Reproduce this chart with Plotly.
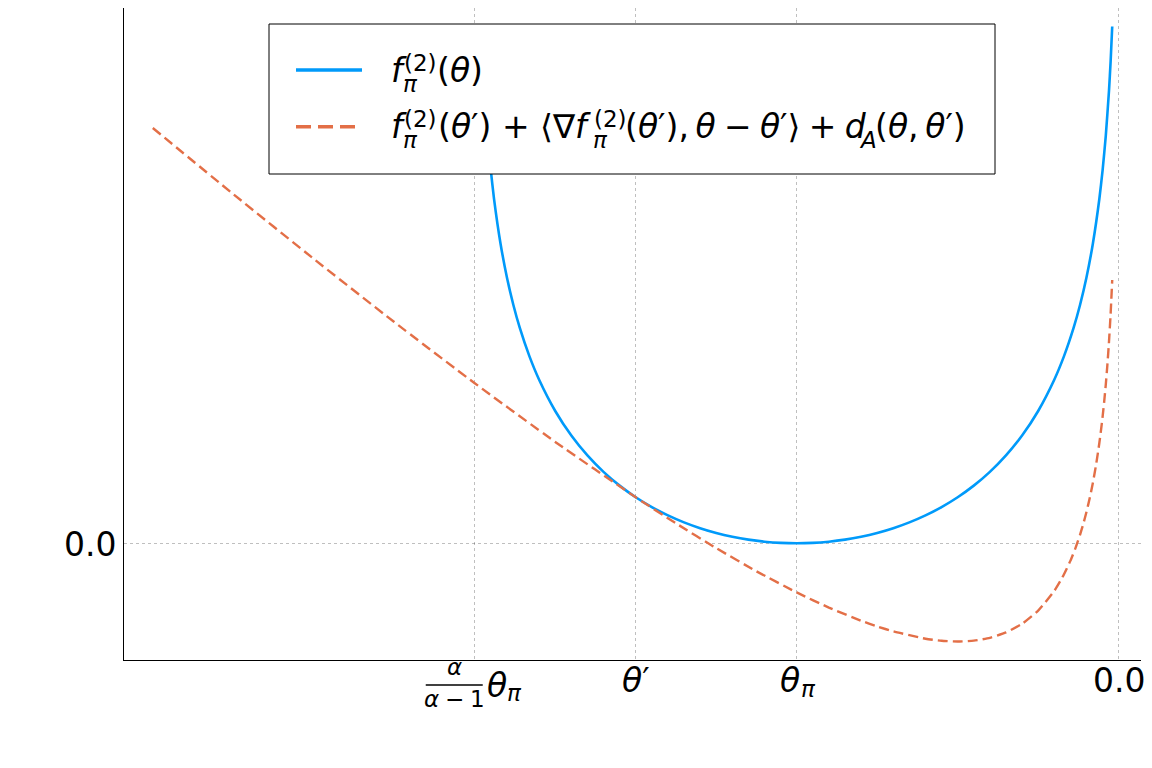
import plotly.graph_objects as go

# ---------------- data ----------------
theta_f = [-1.98, -1.975, -1.97, -1.96, -1.95, -1.94, -1.92, -1.90, -1.88, -1.86,
           -1.83, -1.80, -1.75, -1.70, -1.65, -1.60, -1.55, -1.50, -1.45, -1.40,
           -1.35, -1.30, -1.25, -1.20, -1.15, -1.10, -1.05, -1.00, -0.95, -0.90,
           -0.85, -0.80, -0.75, -0.70, -0.65, -0.60, -0.55, -0.50, -0.45, -0.40,
           -0.35, -0.30, -0.25, -0.20, -0.17, -0.14, -0.12, -0.10, -0.08, -0.06,
           -0.05, -0.04, -0.03, -0.025, -0.02]
f_vals = [3.2289, 3.0083, 2.8285, 2.5459, 2.3279, 2.1507, 1.8734, 1.6607, 1.4890, 1.3455,
          1.1676, 1.0217, 0.8267, 0.6733, 0.5491, 0.4463, 0.3603, 0.2877, 0.2263, 0.1744,
          0.1307, 0.0943, 0.0645, 0.0408, 0.0228, 0.0101, 0.0025, 0.0000, 0.0025, 0.0101,
          0.0228, 0.0408, 0.0645, 0.0943, 0.1307, 0.1744, 0.2263, 0.2877, 0.3603, 0.4463,
          0.5491, 0.6733, 0.8267, 1.0217, 1.1676, 1.3455, 1.4890, 1.6607, 1.8734, 2.1507,
          2.3279, 2.5459, 2.8285, 3.0083, 3.2289]

theta_g = [-3.0, -2.75, -2.5, -2.25, -2.0, -1.75, -1.5, -1.375, -1.25, -1.125,
           -1.0, -0.9, -0.8, -0.75, -0.7, -0.6, -0.55, -0.5, -0.45, -0.4,
           -0.35, -0.3, -0.25, -0.2, -0.175, -0.15, -0.135, -0.12, -0.11, -0.1,
           -0.09, -0.08, -0.07, -0.06, -0.055, -0.05, -0.045, -0.04, -0.035, -0.03,
           -0.025, -0.02]
g_vals = [2.5945, 2.1815, 1.7769, 1.3822, 1.0000, 0.6335, 0.2877, 0.1247, -0.0300, -0.1746,
          -0.3069, -0.4015, -0.4837, -0.5192, -0.5502, -0.5960, -0.6090, -0.6137, -0.6083, -0.5906,
          -0.5570, -0.5029, -0.4206, -0.2974, -0.2139, -0.1097, -0.0344, 0.0534, 0.1204, 0.1957,
          0.2811, 0.3789, 0.4924, 0.6266, 0.7036, 0.7889, 0.8842, 0.9920, 1.1156, 1.2597,
          1.4320, 1.6452]

xtick_vals = [-2.0, -1.5, -1.0, 0.0]
ytick_vals = [0.0]
ytick_text = ["0.0"]

BLUE = "#009AFA"
ORANGE = "#E36F47"
FONT = "DejaVu Sans"
MS, SS = 33, 23          # main / script font sizes
SP = "\u2005"            # medium math space around binary operators
TH = "\u2009"            # thin space after commas

# ---------------- axis ranges (3% padding like Plots.jl) ----------------
xs = theta_f + theta_g
ys = f_vals + g_vals
xpad = 0.03 * (max(xs) - min(xs))
ypad = 0.03 * (max(ys) - min(ys))
xrange_ = [min(xs) - xpad, max(xs) + xpad]
yrange_ = [min(ys) - ypad, max(ys) + ypad]

# the page body has an 8px margin: the figure is drawn at (8, 8)
OFF = 8
# plot-area box in window pixels
L, R, T, B = 124, 1141, 8, 660


def px(x):
    return (x - L) / (R - L)


def py(y):
    return (B - y) / (B - T)


def xdata_px(v):
    return L + (v - xrange_[0]) / (xrange_[1] - xrange_[0]) * (R - L)


fig = go.Figure()
fig.add_trace(go.Scatter(x=theta_f, y=f_vals, mode="lines",
                         line=dict(color=BLUE, width=2.6, shape="spline", smoothing=0.5),
                         showlegend=False, hoverinfo="skip"))
fig.add_trace(go.Scatter(x=theta_g, y=g_vals, mode="lines",
                         line=dict(color=ORANGE, width=2.4, dash="10px,5px",
                                   shape="spline", smoothing=0.5),
                         showlegend=False, hoverinfo="skip"))

shapes = []
annos = []


def txt(s, x, y, size, anchor="left"):
    annos.append(dict(text=s, x=px(x), y=py(y), xref="paper", yref="paper",
                      xanchor=anchor, yanchor="middle", showarrow=False,
                      font=dict(family=FONT, size=size, color="black"),
                      borderpad=0))


# ---- legend (drawn manually) ----
shapes.append(dict(type="rect", xref="paper", yref="paper",
                   x0=px(269), x1=px(995), y0=py(174), y1=py(24),
                   line=dict(color="black", width=1), fillcolor="white", layer="above"))
shapes.append(dict(type="line", xref="paper", yref="paper",
                   x0=px(296), x1=px(362), y0=py(70), y1=py(70),
                   line=dict(color=BLUE, width=3.5), layer="above"))
shapes.append(dict(type="line", xref="paper", yref="paper",
                   x0=px(296), x1=px(362), y0=py(126.7), y1=py(126.7),
                   line=dict(color=ORANGE, width=3.5, dash="15px,7px"), layer="above"))

# row 1
M1 = 70
txt("<i>f</i>", 390, M1, MS)
txt("(2)", 403, M1 - 7.5, SS)
txt("<i>π</i>", 402, M1 + 13.5, SS)
txt("(<i>θ</i>)", 436, M1, MS)
# row 2
M2 = 126.7
txt("<i>f</i>", 390, M2, MS)
txt("(2)", 403, M2 - 7.5, SS)
txt("<i>π</i>", 402, M2 + 13.5, SS)
txt("(<i>θ</i>′) + ⟨∇<i>f</i>", 592, M2, MS, anchor="right")
txt("(2)", 593, M2 - 7.5, SS)
txt("<i>π</i>", 592, M2 + 13.5, SS)
txt("(<i>θ</i>′)," + TH + "<i>θ</i>" + SP + "−" + SP + "<i>θ</i>′⟩" + SP + "+" + SP + "<i>d</i>",
    624, M2, MS)
txt("<i>A</i>", 858, M2 + 13.5, SS)
txt("(<i>θ</i>," + TH + "<i>θ</i>′)", 874, M2, MS)

# ---- x tick labels ----
x_frac = xdata_px(xtick_vals[0])
x_tp = xdata_px(xtick_vals[1])
x_pi = xdata_px(xtick_vals[2])
x_zero = xdata_px(xtick_vals[3])
# alpha/(alpha-1) theta_pi
txt("<i>α</i>", x_frac - 20.5, 667, SS, anchor="center")
shapes.append(dict(type="line", xref="paper", yref="paper",
                   x0=px(x_frac - 49), x1=px(x_frac + 8), y0=py(685), y1=py(685),
                   line=dict(color="black", width=1.5)))
txt("<i>α</i>" + SP + "−" + SP + "1", x_frac - 20, 699, SS, anchor="center")
txt("<i>θ</i>", x_frac + 11, 685, MS)
txt("<i>π</i>", x_frac + 31, 693, SS)
# theta'
txt("<i>θ</i>′", x_tp, 680, MS, anchor="center")
# theta_pi
txt("<i>θ</i>", x_pi + 4, 680, MS, anchor="right")
txt("<i>π</i>", x_pi + 3, 688.5, SS)
# 0.0
txt("0.0", x_zero, 680, MS, anchor="center")
# ---- y tick label ----
txt(ytick_text[0], 117, 544, MS, anchor="right")

fig.update_layout(
    width=1152 - OFF, height=768 - OFF,
    margin=dict(l=L - OFF, r=1152 - R, t=T - OFF, b=768 - B, autoexpand=False),
    paper_bgcolor="white", plot_bgcolor="white",
    shapes=shapes, annotations=annos,
    showlegend=False,
    font=dict(family=FONT, size=MS, color="black"),
    xaxis=dict(range=xrange_, tickmode="array", tickvals=xtick_vals, showticklabels=False,
               showgrid=True, gridcolor="rgba(0,0,0,0.25)", griddash="dot", gridwidth=1,
               zeroline=False, showline=True, linecolor="black", linewidth=1.2, ticks=""),
    yaxis=dict(range=yrange_, tickmode="array", tickvals=ytick_vals, showticklabels=False,
               showgrid=True, gridcolor="rgba(0,0,0,0.25)", griddash="dot", gridwidth=1,
               zeroline=False, showline=True, linecolor="black", linewidth=1.2, ticks=""),
)

fig.write_html("out.html")
